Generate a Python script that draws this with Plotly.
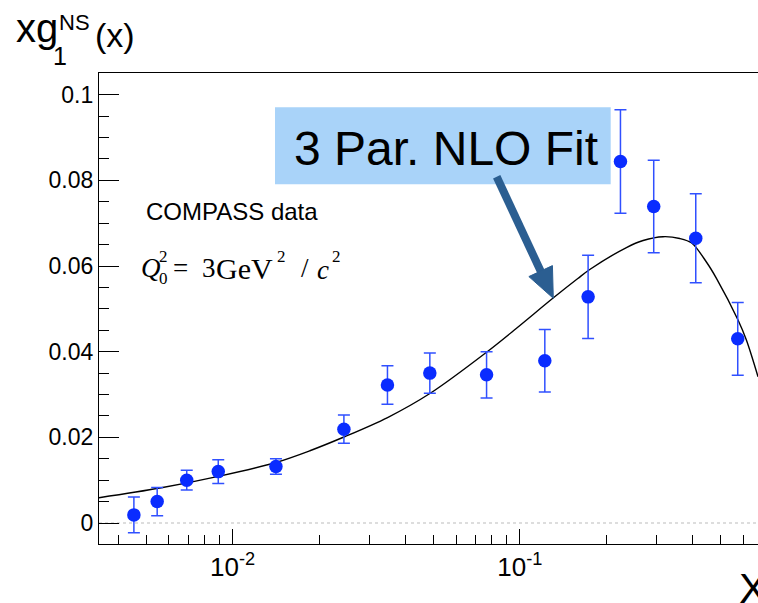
import plotly.graph_objects as go

# ---------------- data ----------------
x_data = [0.00453, 0.00546, 0.00692, 0.00891, 0.01415, 0.0244, 0.0346, 0.0486,
          0.0766, 0.1222, 0.1729, 0.2241, 0.2926, 0.4099, 0.5739]
y_data = [0.0019, 0.0050, 0.0100, 0.0120, 0.0132, 0.0219, 0.0322, 0.0350,
          0.0346, 0.0379, 0.0528, 0.0844, 0.0739, 0.0665, 0.0430]
y_err = [0.0042, 0.0033, 0.0023, 0.0028, 0.0018, 0.0033, 0.0045, 0.0047,
         0.0054, 0.0073, 0.0097, 0.0121, 0.0108, 0.0104, 0.0085]

fit_x = [0.003424, 0.005585, 0.008912, 0.01415, 0.01858, 0.02440, 0.03463,
         0.04861, 0.07657, 0.09739, 0.1306, 0.1592, 0.1752, 0.2351, 0.2687,
         0.3153, 0.3604, 0.3969, 0.4464, 0.4838, 0.5752, 0.6151, 0.6752]
fit_y = [0.00591, 0.00817, 0.01090, 0.01413, 0.01688, 0.02008, 0.02463,
         0.03024, 0.03988, 0.04548, 0.05253, 0.05709, 0.05919, 0.06432, 0.06596,
         0.06685, 0.06643, 0.06537, 0.06094, 0.05713, 0.04740, 0.04273, 0.03416]

y_tickvals = [0, 0.02, 0.04, 0.06, 0.08, 0.1]
y_ticktext = ["0", "0.02", "0.04", "0.06", "0.08", "0.1"]
x_tickvals = [0.01, 0.1]
x_ticktext = ["10<sup>-2</sup>", "10<sup>-1</sup>"]
x_minor = [0.004, 0.005, 0.006, 0.007, 0.008, 0.009,
           0.02, 0.03, 0.04, 0.05, 0.06, 0.07, 0.08, 0.09,
           0.2, 0.3, 0.4, 0.5, 0.6]

# ---------------- layout helpers ----------------
W, H = 758, 603
L, R, T, B = 99, 0, 73, 59
pw, ph = W - L - R, H - T - B


def px(x):
    return (x - L) / pw


def py(y):
    return (H - B - y) / ph


def txt(text, x, y, size, family="Liberation Sans", xanchor="left",
        yanchor="middle", color="black"):
    return dict(text=text, x=px(x), y=py(y), xref="paper", yref="paper",
                xanchor=xanchor, yanchor=yanchor, showarrow=False,
                font=dict(size=size, family=family, color=color))


fig = go.Figure()

fig.add_trace(go.Scatter(x=fit_x, y=fit_y, mode="lines",
                         line=dict(color="black", width=1.4, shape="spline",
                                   smoothing=0.9),
                         hoverinfo="skip", showlegend=False))

fig.add_trace(go.Scatter(x=x_data, y=y_data, mode="markers",
                         marker=dict(color="#0A2CFF", size=13.5),
                         error_y=dict(type="data", array=y_err, color="#3050FF",
                                      thickness=1.5, width=6),
                         showlegend=False))

serif = "Liberation Serif"
annotations = [
    # y axis title  xg_1^NS(x)
    txt("xg", 14, 28.5, 40),
    txt("1", 51, 56, 25),
    txt("NS", 57, 22, 22),
    txt("(x)", 93, 35, 34),
    # x axis title
    txt("X", 737, 588, 42),
    # labels
    txt("COMPASS data", 144, 211, 24),
    txt("<i>Q</i>", 139, 268, 27, family=serif),
    txt("2", 157, 256, 17, family=serif),
    txt("0", 157, 278, 17, family=serif),
    txt("=", 171, 268, 27, family=serif),
    txt("3", 200, 268, 27, family=serif),
    txt("GeV", 214, 268, 30, family=serif),
    txt("2", 275, 256, 17, family=serif),
    txt("/", 299, 268, 27, family=serif),
    txt("<i>c</i>", 315, 270, 27, family=serif),
    txt("2", 330, 256, 17, family=serif),
    # fit label
    txt("3 Par. NLO Fit", 446, 148, 48, xanchor="center"),
]

# arrow geometry (pixels)
sx, sy = 496.7, 176.7
tx, ty = 553.3, 298.3
dx, dy = tx - sx, ty - sy
ln = (dx * dx + dy * dy) ** 0.5
ux, uy = dx / ln, dy / ln
nx, ny = -uy, ux
hl, hw = 30, 13
bx, by = tx - hl * ux, ty - hl * uy
c1 = (bx + hw * nx, by + hw * ny)
c2 = (bx - hw * nx, by - hw * ny)
arrow_col = "#2B5E91"

shapes = [
    dict(type="line", xref="paper", x0=0, x1=1, yref="y", y0=0, y1=0,
         line=dict(color="#BBBBBB", width=1, dash="dot"), layer="below"),
    dict(type="rect", xref="paper", yref="paper", x0=px(275), x1=px(610.7),
         y0=py(184.3), y1=py(107.3), fillcolor="#A9D3F9", line=dict(width=0),
         layer="above"),
    dict(type="line", xref="paper", yref="paper", x0=px(sx), y0=py(sy),
         x1=px(bx + 2 * ux), y1=py(by + 2 * uy),
         line=dict(color=arrow_col, width=8), layer="above"),
    dict(type="path", xref="paper", yref="paper",
         path=f"M {px(tx)} {py(ty)} L {px(c1[0])} {py(c1[1])} L {px(c2[0])} {py(c2[1])} Z",
         fillcolor=arrow_col, line=dict(color=arrow_col, width=1), layer="above"),
]

fig.update_layout(
    width=W, height=H,
    margin=dict(l=L, r=R, t=T, b=B, pad=0),
    paper_bgcolor="white", plot_bgcolor="white",
    showlegend=False,
    annotations=annotations,
    shapes=shapes,
    xaxis=dict(type="log", range=[-2.4654, -0.1706],
               showgrid=False, zeroline=False,
               showline=True, linecolor="black", linewidth=1.2, mirror=True,
               ticks="inside", ticklen=15, tickwidth=1.2, tickcolor="black",
               tickmode="array", tickvals=x_tickvals, ticktext=x_ticktext,
               tickfont=dict(family="Liberation Sans", size=26, color="black"),
               minor=dict(tickmode="array", tickvals=x_minor, ticks="inside",
                          ticklen=9, tickwidth=1.2, tickcolor="black",
                          showgrid=False)),
    yaxis=dict(range=[-0.0049, 0.10507],
               showgrid=False, zeroline=False,
               showline=True, linecolor="black", linewidth=1.2, mirror=False,
               ticks="inside", ticklen=20, tickwidth=1.2, tickcolor="black",
               tickmode="array", tickvals=y_tickvals, ticktext=y_ticktext,
               tickfont=dict(family="Liberation Sans", size=23, color="black"),
               minor=dict(dtick=0.005, ticks="inside", ticklen=10,
                          tickwidth=1.2, tickcolor="black", showgrid=False)),
)

fig.write_html("out.html")
